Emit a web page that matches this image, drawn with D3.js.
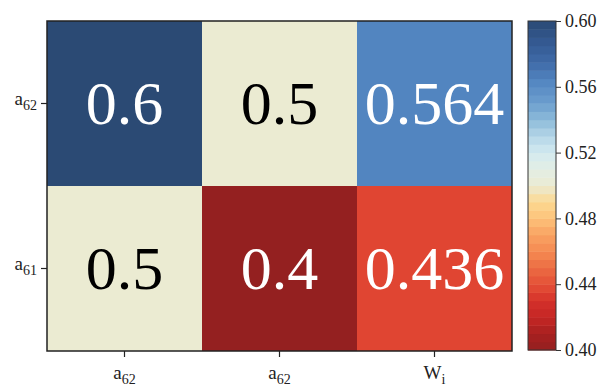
<!DOCTYPE html>
<html><head><meta charset="utf-8">
<script src="https://cdn.jsdelivr.net/npm/d3@7"></script>
<style>body{margin:0;background:#fff}svg{display:block}</style>
</head><body>
<svg id="c" width="611" height="388"></svg>
<script>
const FONT = "'Liberation Serif'";
const xCats = ["a62a","a62b","Wi"];
const xLabels = [["a","62"],["a","62"],["W","i"]];
const yCats = ["a62","a61"];
const yLabels = [["a","62"],["a","61"]];
const values = [
  [0.6, 0.5, 0.564],
  [0.5, 0.4, 0.436]
];
const cellText = [["0.6","0.5","0.564"],["0.5","0.4","0.436"]];
const cbTicks = [0.40,0.44,0.48,0.52,0.56,0.60];
const colorStops = [0.40,0.41,0.42,0.43,0.436,0.45,0.46,0.47,0.48,0.49,0.50,0.51,0.52,0.53,0.54,0.55,0.564,0.575,0.59,0.60];
const colorVals = ["#942020","#a82020","#c52624","#d4312a","#e04532","#ec6c43","#f58a52","#f9a262","#fdc27a","#fcd890","#ebebd2","#e3eee4","#d3eaf0","#b5d6e8","#8dbbd9","#6d9fcf","#5285c0","#3f6aa8","#32568c","#2b4a74"];

const svg = d3.select("#c");
const m = {l:47, t:21, r:512, b:351};
const x = d3.scaleBand().domain(xCats).range([m.l, m.r]);
const y = d3.scaleBand().domain(yCats).range([m.t, m.b]);
const cont = d3.scaleLinear().domain(colorStops).range(colorVals).interpolate(d3.interpolateRgb);
const nBands = 40;
const color = v => cont(v);
const bandColor = v => {
  const i = Math.min(nBands-1, Math.floor((v-0.4)/0.2*nBands + 1e-9));
  return cont(0.4 + (i+0.5)*0.2/nBands);
};

const cells = [];
yCats.forEach((yc,i)=>xCats.forEach((xc,j)=>cells.push({xc,yc,v:values[i][j],t:cellText[i][j]})));
svg.selectAll("rect.cell").data(cells).join("rect")
  .attr("x",d=>x(d.xc)).attr("y",d=>y(d.yc))
  .attr("width",x.bandwidth()).attr("height",y.bandwidth())
  .attr("fill",d=>color(d.v));
svg.selectAll("text.cell").data(cells).join("text")
  .attr("x",d=>x(d.xc)+x.bandwidth()/2).attr("y",d=>y(d.yc)+y.bandwidth()/2+20)
  .attr("text-anchor","middle").attr("font-size",62).style("font-family",FONT)
  .attr("fill",d=>(d.v>0.54||d.v<0.46)?"#fff":"#000")
  .text(d=>d.t);
svg.append("rect").attr("x",m.l).attr("y",m.t).attr("width",m.r-m.l).attr("height",m.b-m.t)
  .attr("fill","none").attr("stroke","#222").attr("stroke-width",1.5);

// x axis
const xa = svg.append("g").attr("transform",`translate(0,${m.b})`)
  .call(d3.axisBottom(x).tickSize(6).tickFormat(""));
xa.select(".domain").remove();
xa.selectAll(".tick line").attr("stroke","#222").attr("stroke-width",1.2);
xCats.forEach((c,i)=>{
  const t = svg.append("text").attr("x",x(c)+x.bandwidth()/2).attr("y",379)
    .attr("text-anchor","middle").attr("font-size",19).attr("fill","#222").style("font-family",FONT);
  t.append("tspan").text(xLabels[i][0]);
  t.append("tspan").attr("dy",5).attr("font-size",14).text(xLabels[i][1]);
});
// y axis
const ya = svg.append("g").attr("transform",`translate(${m.l},0)`)
  .call(d3.axisLeft(y).tickSize(6).tickFormat(""));
ya.select(".domain").remove();
ya.selectAll(".tick line").attr("stroke","#222").attr("stroke-width",1.2);
yCats.forEach((c,i)=>{
  const t = svg.append("text").attr("x",37).attr("y",y(c)+y.bandwidth()/2+1)
    .attr("text-anchor","end").attr("font-size",19).attr("fill","#222").style("font-family",FONT);
  t.append("tspan").text(yLabels[i][0]);
  t.append("tspan").attr("dy",5).attr("font-size",14).text(yLabels[i][1]);
});

// colorbar
const cb = {x:528, w:28, t:21, b:350};
const cy = d3.scaleLinear().domain([0.4,0.6]).range([cb.b, cb.t]);
const bands = d3.range(nBands).map(i=>0.4+i*0.2/nBands);
svg.selectAll("rect.cb").data(bands).join("rect")
  .attr("x",cb.x).attr("width",cb.w)
  .attr("y",d=>cy(d+0.2/nBands)).attr("height",d=>cy(d)-cy(d+0.2/nBands)+0.5)
  .attr("fill",d=>bandColor(d+0.1/nBands));
svg.append("rect").attr("x",cb.x).attr("y",cb.t).attr("width",cb.w).attr("height",cb.b-cb.t)
  .attr("fill","none").attr("stroke","#333").attr("stroke-width",1);
const ca = svg.append("g").attr("transform",`translate(${cb.x+cb.w},0)`)
  .call(d3.axisRight(cy).tickValues(cbTicks).tickSize(5).tickFormat(d3.format(".2f")));
ca.select(".domain").remove();
ca.selectAll(".tick line").attr("stroke","#333");
ca.selectAll(".tick text").attr("font-size",18).attr("fill","#222").attr("x",9).style("font-family",FONT);
</script>
</body></html>
